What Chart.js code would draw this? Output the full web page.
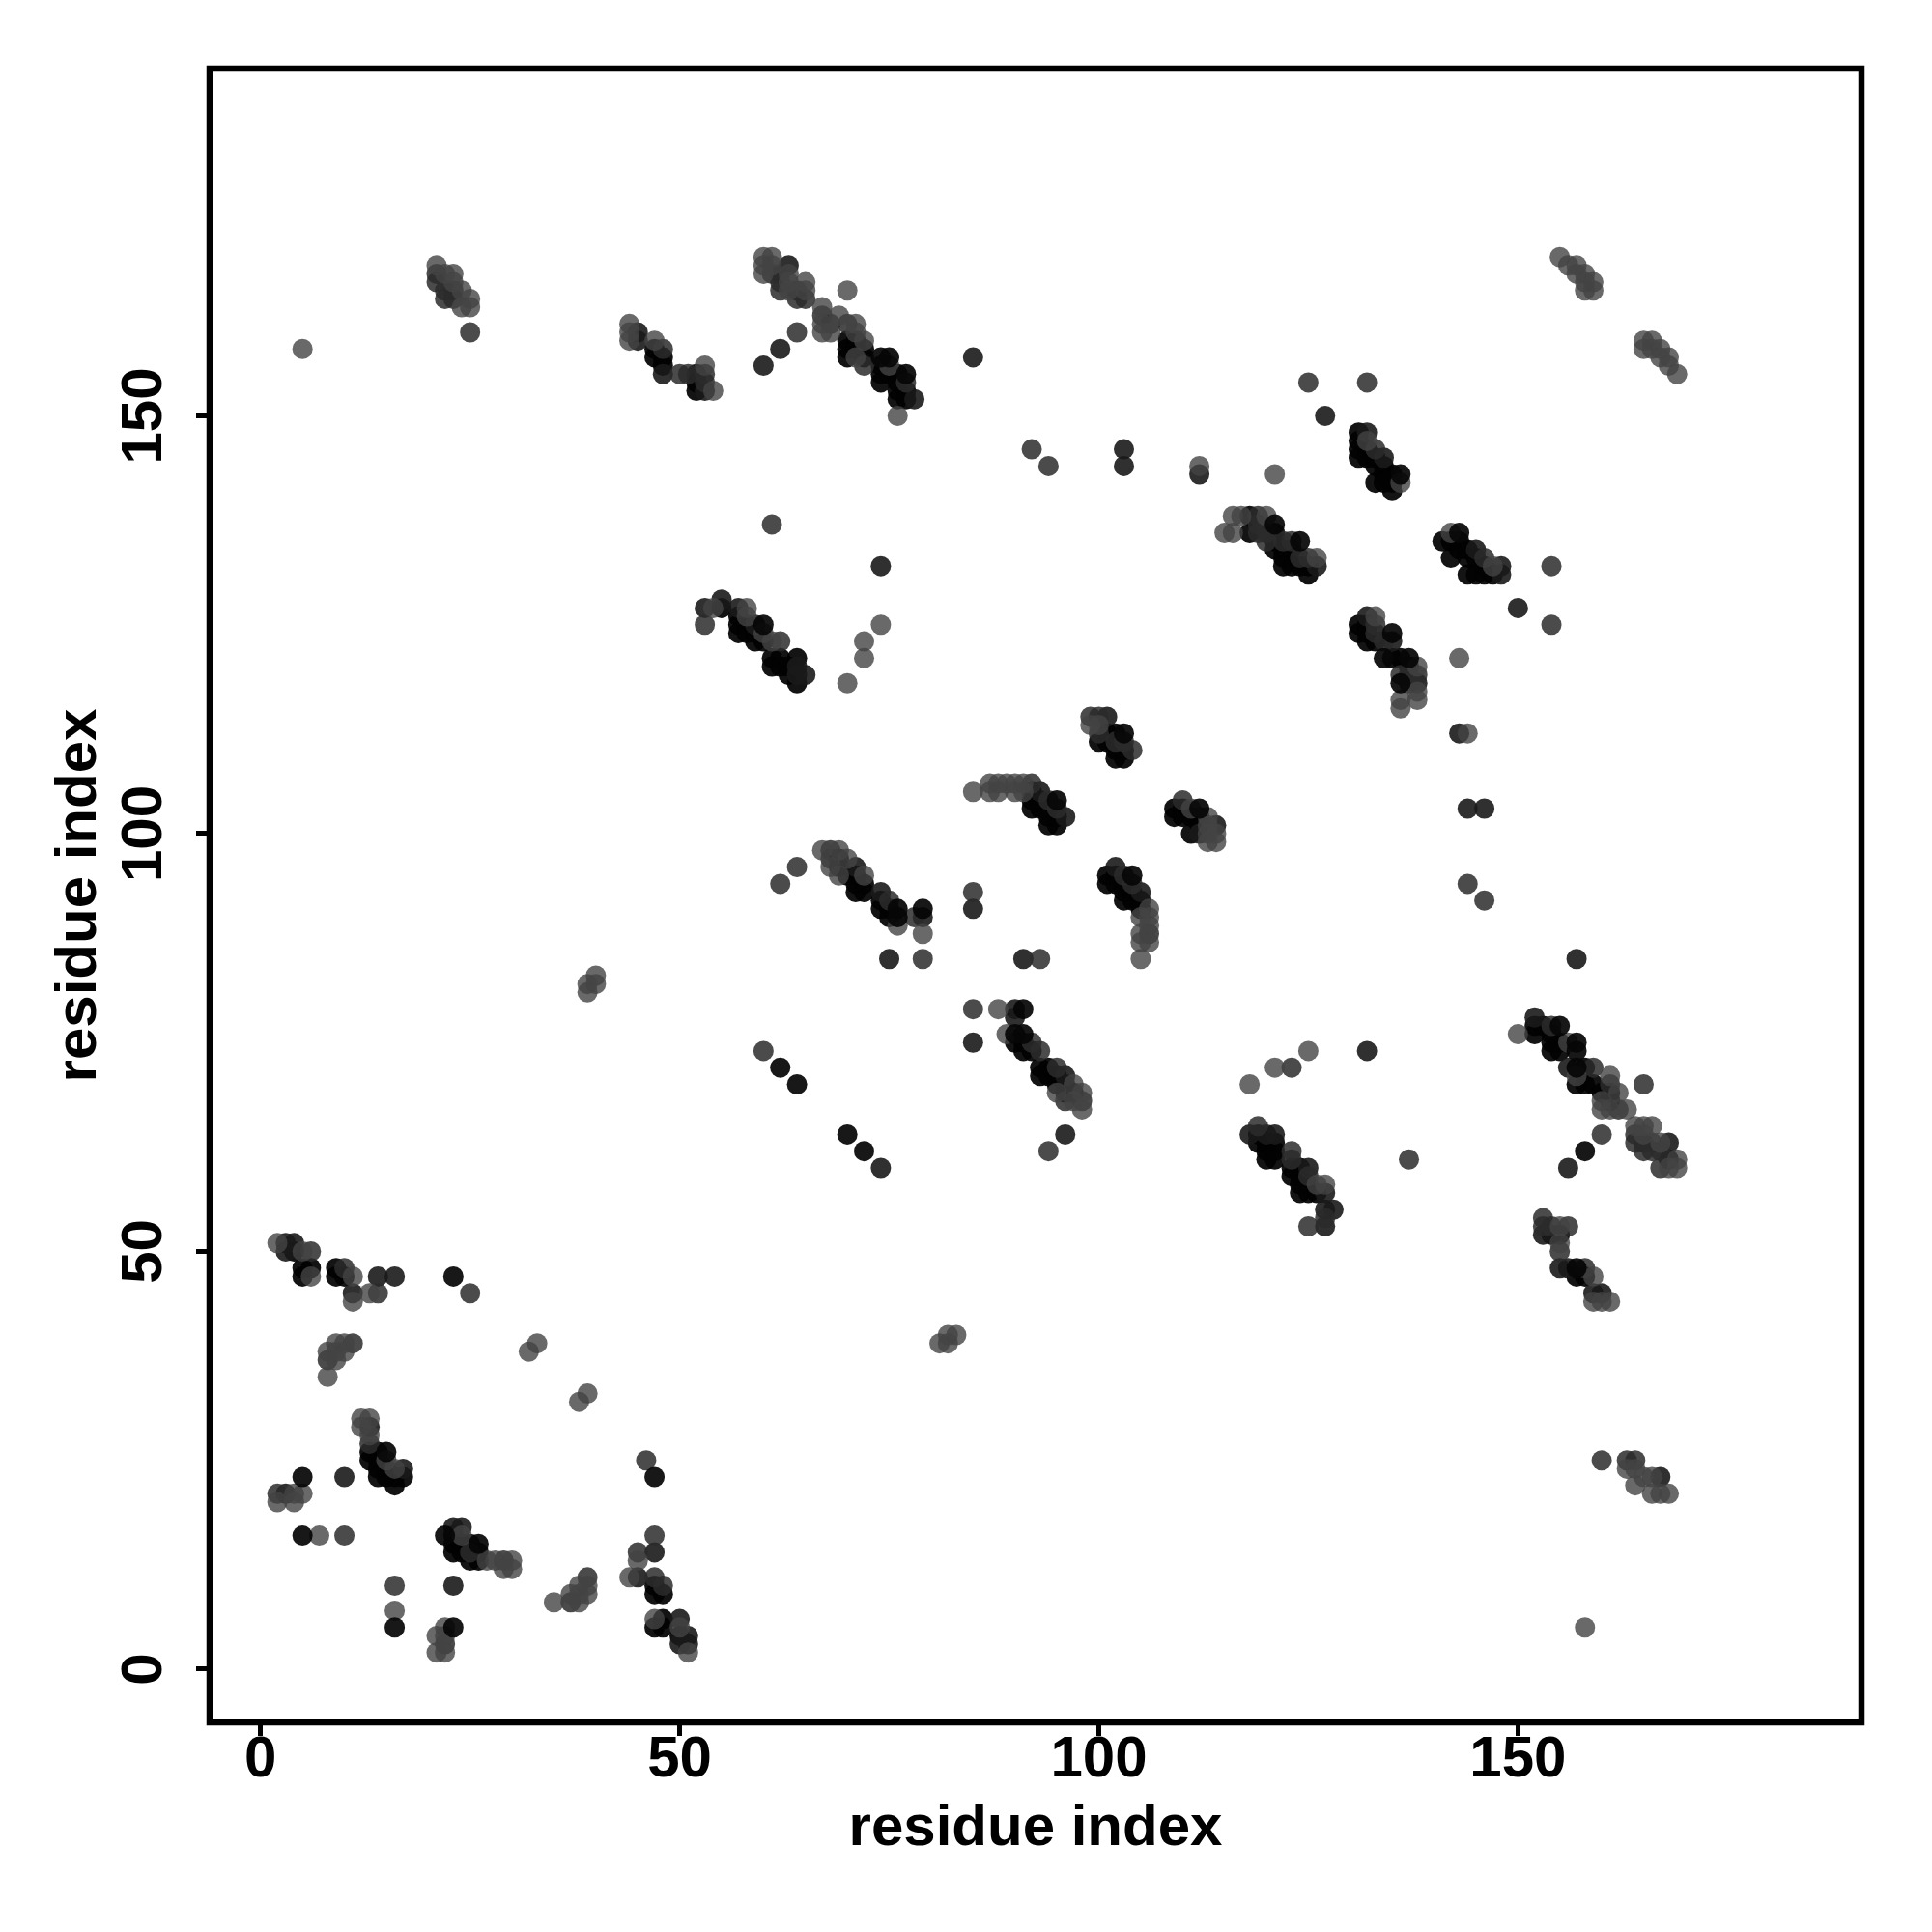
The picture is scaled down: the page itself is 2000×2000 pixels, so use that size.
<!DOCTYPE html>
<html>
<head>
<meta charset="utf-8">
<style>html,body{margin:0;padding:0;background:#fff}canvas{display:block}</style>
<script src="https://cdn.jsdelivr.net/npm/chart.js@4"></script>
</head>
<body>
<div style="width:2000px;height:2000px"><canvas id="c" width="2000" height="2000"></canvas></div>
<script>
const tickValues = [0, 50, 100, 150];
const axisTitle = "residue index";

const contactsBlack = [[4,50],[5,48],[5,47],[6,48],[9,48],[9,47],[10,47],[13,26],[14,26],[13,25],[14,25],[14,24],[14,23],[15,23],[16,23],[16,22],[15,24],[17,23],[23,16],[23,15],[23,14],[24,15],[24,14],[25,15],[26,14],[25,13],[26,13],[47,10],[47,9],[48,9],[48,6],[48,5],[47,5],[50,4],[47,158],[47,157],[48,157],[48,156],[52,155],[52,153],[52,154],[70,159],[71,159],[70,158],[71,158],[72,158],[70,157],[72,157],[74,156],[74,155],[74,154],[75,155],[76,155],[76,154],[76,153],[76,152],[77,153],[77,152],[57,126],[57,125],[57,124],[58,125],[58,124],[59,124],[59,123],[60,123],[61,121],[62,121],[61,120],[62,120],[63,120],[64,121],[63,119],[64,118],[55,127],[118,138],[118,136],[121,136],[121,135],[121,134],[123,134],[122,134],[122,133],[123,132],[122,132],[125,132],[125,131],[124,132],[131,148],[131,147],[131,146],[131,145],[132,146],[132,145],[133,145],[134,144],[133,144],[133,142],[134,143],[135,143],[135,142],[135,141],[134,142],[141,135],[142,135],[143,135],[142,133],[143,134],[144,134],[144,131],[145,131],[146,131],[147,131],[144,133],[145,133],[146,132],[131,125],[131,124],[132,125],[132,124],[132,123],[133,123],[135,121],[136,121],[137,120],[92,105],[92,104],[92,103],[93,104],[93,103],[94,102],[94,101],[95,101],[95,102],[100,111],[101,111],[102,112],[101,112],[102,110],[102,109],[103,109],[103,110],[109,103],[109,102],[110,103],[110,102],[111,102],[112,102],[112,101],[111,100],[101,95],[101,94],[102,95],[102,94],[103,94],[103,93],[104,93],[103,92],[104,92],[105,92],[105,91],[69,97],[69,96],[70,95],[71,95],[71,94],[71,93],[72,94],[72,93],[74,92],[74,91],[75,91],[75,90],[90,75],[91,75],[91,74],[92,74],[93,72],[93,71],[94,72],[94,71],[95,71],[96,69],[97,69],[95,70],[96,70],[119,64],[119,63],[120,63],[121,63],[120,62],[120,61],[121,62],[121,61],[123,60],[123,59],[124,60],[124,59],[124,58],[125,58],[124,57],[125,57],[126,57],[152,77],[152,76],[153,77],[154,76],[154,75],[154,74],[155,75],[155,74],[157,70],[158,70],[158,72],[159,70],[160,69],[161,69],[161,68],[168,61],[154,52],[155,52],[157,47],[158,47]];

const contactsDark = [[3,51],[4,51],[3,50],[11,45],[14,47],[16,47],[10,23],[3,21],[23,17],[24,17],[23,10],[48,155],[45,160],[45,159],[53,153],[63,168],[85,157],[60,156],[62,158],[78,152],[53,127],[55,128],[57,127],[59,125],[65,119],[64,119],[64,120],[74,132],[127,150],[112,143],[126,132],[132,126],[135,123],[148,132],[148,131],[145,134],[134,145],[132,148],[150,127],[138,118],[143,112],[144,103],[146,103],[85,91],[91,85],[96,102],[93,105],[101,114],[102,96],[105,93],[114,101],[112,100],[79,90],[75,85],[71,96],[74,93],[90,79],[90,78],[85,75],[96,71],[96,64],[118,64],[120,64],[121,64],[127,57],[127,55],[128,55],[127,53],[125,60],[152,78],[156,72],[156,60],[165,63],[168,63],[159,45],[160,45],[155,48],[156,48],[153,52],[132,74],[157,85],[51,4],[51,3],[50,3],[50,6],[47,14],[45,11],[17,24],[13,29],[103,146],[103,144],[167,23],[74,60]];

const contactsMedium = [[6,50],[10,48],[14,45],[25,45],[8,37],[11,39],[13,27],[46,25],[2,21],[10,16],[25,14],[29,13],[16,10],[22,3],[37,8],[39,11],[45,14],[47,16],[47,11],[48,10],[21,167],[21,166],[22,165],[23,165],[22,164],[23,164],[25,160],[48,158],[50,155],[51,155],[53,155],[53,154],[61,167],[62,167],[62,166],[62,165],[64,164],[65,164],[64,165],[64,160],[67,162],[68,161],[70,161],[72,156],[77,154],[53,125],[62,123],[119,138],[119,137],[119,136],[120,136],[120,135],[122,135],[123,135],[124,133],[125,133],[133,146],[146,133],[133,125],[133,124],[134,123],[138,119],[136,119],[137,119],[137,118],[154,125],[154,132],[92,146],[94,144],[125,154],[132,154],[85,93],[93,85],[92,106],[94,104],[95,103],[99,114],[100,114],[100,112],[102,111],[103,111],[104,110],[110,104],[103,95],[104,94],[106,88],[68,98],[68,97],[75,92],[78,90],[79,85],[85,79],[62,94],[60,74],[92,75],[93,74],[95,72],[98,68],[96,68],[94,62],[119,65],[123,62],[123,61],[125,59],[125,53],[127,54],[154,77],[159,72],[161,70],[162,67],[165,70],[160,64],[164,64],[165,62],[167,62],[167,60],[166,63],[166,62],[164,63],[153,54],[153,53],[154,53],[156,53],[155,50],[158,48],[137,61],[146,92],[144,94],[123,72],[160,25],[163,25],[164,25],[61,137],[64,96]];

const contactsLight = [[2,51],[5,50],[6,47],[11,47],[11,44],[13,45],[9,39],[10,39],[8,38],[9,38],[10,38],[9,37],[8,35],[32,38],[33,39],[38,32],[39,33],[12,30],[13,30],[12,29],[13,28],[16,24],[15,25],[2,20],[4,21],[4,20],[5,21],[7,16],[24,16],[27,13],[28,13],[30,13],[29,12],[30,12],[16,7],[21,4],[21,2],[22,5],[22,4],[22,2],[35,8],[38,8],[37,9],[38,9],[38,10],[39,9],[39,10],[44,11],[45,13],[47,6],[50,5],[51,2],[21,168],[22,167],[23,167],[23,166],[24,165],[25,164],[25,163],[24,163],[5,158],[44,161],[44,160],[44,159],[47,159],[53,156],[54,153],[60,169],[61,169],[60,168],[60,167],[61,168],[63,167],[63,166],[63,165],[65,165],[65,166],[70,165],[67,163],[67,161],[67,160],[68,160],[69,162],[71,161],[71,160],[72,159],[71,157],[75,156],[76,150],[54,127],[58,127],[58,126],[60,124],[61,123],[74,125],[72,123],[72,121],[70,118],[115,136],[116,136],[116,138],[117,138],[120,138],[126,133],[121,143],[112,144],[132,147],[136,142],[142,136],[147,132],[133,126],[138,120],[138,117],[138,116],[136,116],[136,115],[143,121],[144,112],[85,105],[87,106],[88,106],[89,106],[90,106],[91,106],[87,105],[88,105],[90,105],[91,105],[99,113],[100,113],[111,103],[113,102],[113,101],[113,100],[114,100],[113,99],[114,99],[106,91],[106,90],[106,89],[106,87],[105,90],[105,88],[105,87],[105,85],[67,98],[69,98],[68,96],[70,97],[69,95],[72,95],[76,89],[79,88],[88,79],[89,76],[97,70],[98,69],[98,67],[95,69],[97,68],[150,76],[126,58],[127,58],[156,75],[157,71],[161,71],[162,69],[163,67],[160,67],[161,67],[160,68],[164,65],[165,65],[166,65],[165,64],[167,63],[169,61],[169,60],[168,60],[155,53],[155,51],[159,47],[159,44],[160,44],[161,44],[158,5],[155,169],[156,168],[157,168],[157,167],[158,167],[158,166],[159,166],[159,165],[158,165],[165,159],[166,159],[165,158],[166,158],[167,158],[167,157],[168,157],[168,156],[169,155],[39,82],[39,81],[40,83],[40,82],[81,39],[82,39],[82,40],[83,40],[118,70],[121,72],[125,74],[164,24],[165,23],[166,23],[164,22],[163,24],[166,21],[167,21],[168,21]];

const contactsStrongest = [[23,47],[47,23],[5,23],[5,16],[16,5],[23,5],[15,26],[26,15],[22,16],[74,157],[75,157],[77,155],[60,125],[124,135],[121,137],[136,143],[143,136],[135,124],[134,121],[137,121],[136,118],[95,104],[103,112],[104,95],[112,103],[79,91],[76,91],[76,90],[91,79],[91,76],[90,76],[157,75],[157,74],[155,77],[157,72],[157,48],[158,62],[62,72],[64,70],[70,64],[72,62]];

const layers = [
  {points: contactsBlack,     color: "rgba(2,2,2,0.93)"},
  {points: contactsDark,      color: "rgba(26,26,26,0.9)"},
  {points: contactsMedium,    color: "rgba(44,44,44,0.85)"},
  {points: contactsLight,     color: "rgba(68,68,68,0.8)"},
  {points: contactsStrongest, color: "rgba(6,6,6,0.93)"}
];

const frame = {
  id: "frame",
  afterDatasetsDraw(chart) {
    const a = chart.chartArea, ctx = chart.ctx;
    ctx.save();
    ctx.strokeStyle = "#000";
    ctx.lineWidth = 6.5;
    ctx.strokeRect(a.left, a.top, a.right - a.left, a.bottom - a.top);
    ctx.restore();
  }
};

const fontSpec = {family: "'Liberation Sans'", weight: "bold", size: 60, lineHeight: 1};

function axis(extra) {
  return Object.assign({
    type: "linear",
    afterBuildTicks(s) { s.ticks = tickValues.map(v => ({value: v})); },
    grid: {display: true, drawOnChartArea: false, drawTicks: true, tickLength: 14, tickWidth: 5, tickColor: "#000", lineWidth: 5, color: "#000"},
    border: {display: false}
  }, extra);
}

new Chart(document.getElementById("c"), {
  type: "scatter",
  data: {
    datasets: layers.map((l, i) => ({
      data: l.points.map(p => ({x: p[0], y: p[1]})),
      backgroundColor: l.color,
      pointRadius: 10.5,
      pointHoverRadius: 10.5,
      borderWidth: 0,
      order: layers.length - i
    }))
  },
  options: {
    responsive: false,
    animation: false,
    devicePixelRatio: 1,
    layout: {padding: {left: 0, right: 73, top: 71, bottom: 0}},
    plugins: {legend: {display: false}, tooltip: {enabled: false}},
    scales: {
      x: axis({
        min: -6.08, max: 190.99,
        afterFit(s) { s.height = 217; },
        ticks: {color: "#000", font: fontSpec, padding: -5, maxRotation: 0, minRotation: 0, autoSkip: false},
        title: {display: true, text: axisTitle, color: "#000", font: fontSpec, padding: {top: 0, bottom: 77}}
      }),
      y: axis({
        min: -6.36, max: 191.56,
        afterFit(s) { s.width = 217; },
        ticks: {color: "#000", font: fontSpec, padding: 2, maxRotation: 90, minRotation: 90, crossAlign: "center", autoSkip: false},
        title: {display: true, text: axisTitle, color: "#000", font: fontSpec, padding: {top: 52, bottom: 0}}
      })
    }
  },
  plugins: [frame]
});
</script>
</body>
</html>
